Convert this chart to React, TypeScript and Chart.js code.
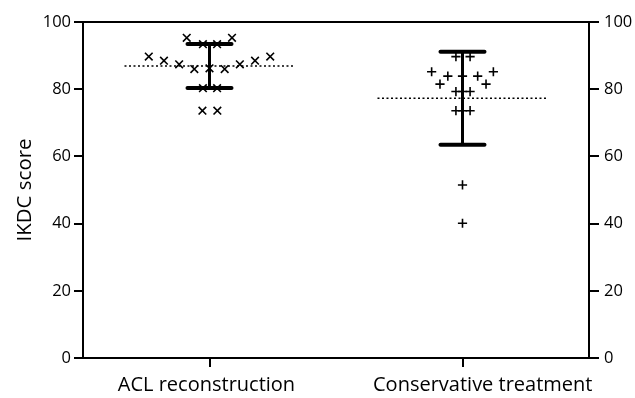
import React, { useEffect, useRef } from 'react';
import { Chart, registerables } from 'chart.js';
Chart.register(...registerables);

const categories = ['ACL reconstruction', 'Conservative treatment'];
const yTickValues = [0, 20, 40, 60, 80, 100];

// ACL reconstruction (x markers): scores and horizontal scatter offsets (category units)
const aclValues = [95.3, 95.3, 93.4, 93.4, 89.7, 88.5, 87.4, 86.0, 86.2, 86.0, 87.4, 88.5, 89.7, 80.3, 80.3, 73.6, 73.6];
const aclJitter = [-0.09, 0.089, -0.026, 0.03, -0.24, -0.18, -0.12, -0.06, 0, 0.06, 0.12, 0.18, 0.24, -0.026, 0.03, -0.028, 0.031];

// Conservative treatment (+ markers)
const consValues = [89.7, 89.7, 85.2, 83.9, 83.9, 83.9, 85.2, 81.5, 81.5, 79.3, 79.3, 79.3, 73.6, 73.6, 73.6, 51.5, 40.1];
const consJitter = [-0.026, 0.03, -0.122, -0.058, 0, 0.06, 0.122, -0.089, 0.093, -0.026, 0, 0.03, -0.026, 0, 0.03, 0, 0];

// Group summaries
const means = [86.9, 77.3];
const sds = [6.55, 13.85];

const FONT = '"Open Sans"';
// horizontal nudge of each category label relative to its tick (category units)
const LABEL_SHIFT = [-0.012, 0.08];

export default function App() {
  const ref = useRef<HTMLCanvasElement | null>(null);
  useEffect(() => {
    document.body.style.margin = '0';
    const canvas = ref.current;
    if (!canvas) return;
    const black = '#000';
    const datasets: any[] = [];
    const groups = [
      { values: aclValues, jitter: aclJitter, style: 'crossRot', radius: 5.4 },
      { values: consValues, jitter: consJitter, style: 'cross', radius: 4.6 },
    ];
    groups.forEach((g, i) => {
      datasets.push({
        type: 'scatter',
        data: g.values.map((v, k) => ({ x: i + g.jitter[k], y: v })),
        pointStyle: g.style,
        pointRadius: g.radius,
        pointBorderWidth: 1.6,
        borderColor: black,
        backgroundColor: black,
        showLine: false,
      });
    });
    means.forEach((m, i) => {
      const lineBase = { type: 'line', borderColor: black, pointRadius: 0, fill: false, tension: 0 };
      datasets.push({ ...lineBase, data: [{ x: i - 0.336, y: m }, { x: i + 0.336, y: m }], borderWidth: 1.6, borderDash: [2, 2.5] });
      datasets.push({ ...lineBase, data: [{ x: i, y: m - sds[i] }, { x: i, y: m + sds[i] }], borderWidth: 3 });
      datasets.push({ ...lineBase, data: [{ x: i - 0.087, y: m + sds[i] }, { x: i + 0.087, y: m + sds[i] }], borderWidth: 4, borderCapStyle: 'round' });
      datasets.push({ ...lineBase, data: [{ x: i - 0.087, y: m - sds[i] }, { x: i + 0.087, y: m - sds[i] }], borderWidth: 4, borderCapStyle: 'round' });
    });

    const yTicksCommon = {
      min: 0,
      max: 100,
      afterBuildTicks: (s: any) => { s.ticks = yTickValues.map((v) => ({ value: v })); },
    };

    const chart = new Chart(canvas, {
      type: 'scatter',
      data: { datasets },
      options: {
        animation: false,
        responsive: false,
        maintainAspectRatio: false,
        layout: { padding: { top: 22, left: 0, right: 0, bottom: 0 } },
        plugins: { legend: { display: false }, tooltip: { enabled: false } },
        scales: {
          x: {
            type: 'linear',
            position: 'bottom',
            weight: 0,
            min: -0.5,
            max: 1.5,
            afterBuildTicks: (s: any) => { s.ticks = categories.map((_, i) => ({ value: i })); },
            afterFit: (s: any) => { s.height = 0; },
            ticks: { display: false },
            grid: { drawOnChartArea: false, color: black, tickLength: 9, lineWidth: 2 },
            border: { color: black, width: 2 },
          },
          xLabels: {
            type: 'linear',
            position: 'bottom',
            weight: 1,
            min: -0.5,
            max: 1.5,
            afterBuildTicks: (s: any) => { s.ticks = categories.map((_, i) => ({ value: i + LABEL_SHIFT[i] })); },
            afterFit: (s: any) => { s.height = 40; },
            ticks: {
              callback: (v: any, idx: number) => categories[idx],
              color: black,
              font: { family: FONT, size: 20 },
              padding: 6,
              maxRotation: 0,
              autoSkip: false,
            },
            grid: { display: false, drawTicks: true, tickLength: 9 },
            border: { display: false },
          },
          y: {
            ...yTicksCommon,
            position: 'left',
            afterFit: (s: any) => { s.width = 83; },
            title: { display: true, text: 'IKDC score', color: black, font: { family: FONT, size: 20.5 }, padding: { top: 13, bottom: 0 } },
            ticks: { color: black, font: { family: FONT, size: 16.5 }, padding: 3 },
            grid: {
              drawOnChartArea: true,
              color: (c: any) => (c.tick && c.tick.value === 100 ? black : 'rgba(0,0,0,0)'),
              tickColor: black,
              tickLength: 9,
              lineWidth: 2,
            },
            border: { color: black, width: 2 },
          },
          y2: {
            ...yTicksCommon,
            position: 'right',
            afterFit: (s: any) => { s.width = 46; },
            ticks: { color: black, font: { family: FONT, size: 16.5 }, padding: 5 },
            grid: { drawOnChartArea: false, color: black, tickLength: 10, lineWidth: 2 },
            border: { color: black, width: 2 },
          },
        },
      } as any,
    });
    return () => chart.destroy();
  }, []);
  return (
    <div style={{ width: 635, height: 398 }}>
      <canvas ref={ref} width={635} height={398} style={{ width: 635, height: 398, display: 'block' }} />
    </div>
  );
}
